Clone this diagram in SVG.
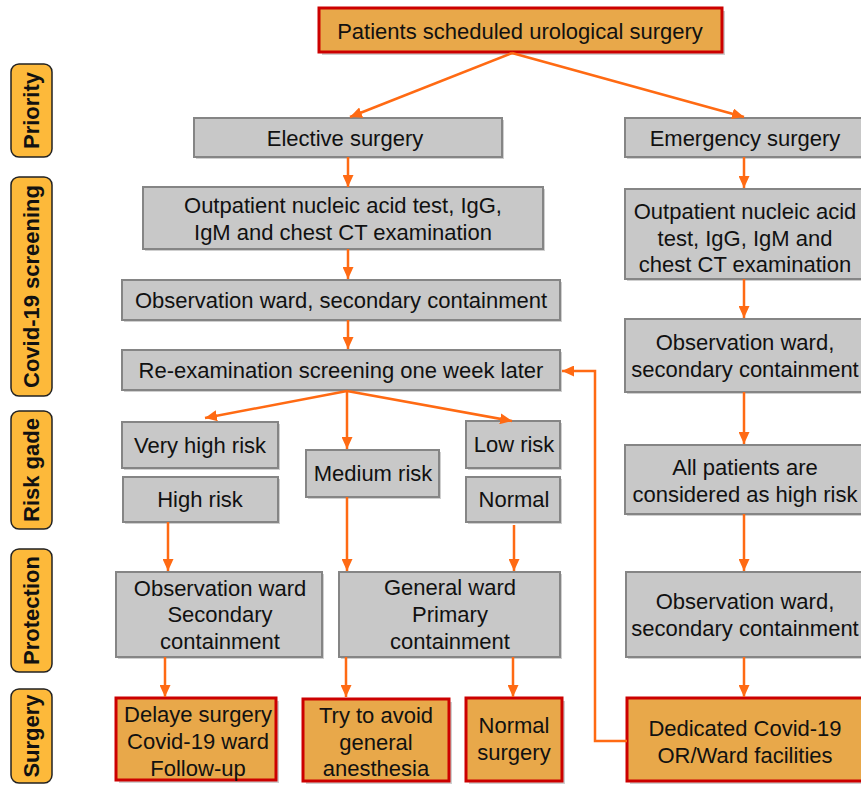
<svg xmlns="http://www.w3.org/2000/svg" width="861" height="785" viewBox="0 0 861 785">
<defs>
<marker id="ah" markerUnits="userSpaceOnUse" markerWidth="12" markerHeight="11" refX="12" refY="5.5" orient="auto">
<path d="M0,0 L12,5.5 L0,11 z" fill="#FF6A13"/>
</marker>
<style>
.t{font-family:"Liberation Sans",Arial,sans-serif;font-size:22px;fill:#111;text-anchor:middle;dominant-baseline:central}
.side rect{fill:#FDB93A;stroke:#222;stroke-width:1.5}
.side text{font-family:"Liberation Sans",Arial,sans-serif;font-size:22px;font-weight:bold;fill:#111;text-anchor:middle;dominant-baseline:central}
.g{fill:#C8C8C8;stroke:#858585;stroke-width:2}
.o{fill:#E8A84A;stroke:#CC0000;stroke-width:3}
.sh{fill:#A0A0A0;opacity:0.5}
.c path{fill:none;stroke:#FF6A13;stroke-width:2.5;marker-end:url(#ah)}
</style>
</defs>
<rect width="861" height="785" fill="#fff"/>

<g class="side" id="side-priority"><rect x="11" y="64" width="41" height="93" rx="8"/><text transform="translate(31.5,110.5) rotate(-90)">Priority</text></g>
<g class="side" id="side-screening"><rect x="11" y="177" width="41" height="219" rx="8"/><text transform="translate(31.5,286.5) rotate(-90)">Covid-19 screening</text></g>
<g class="side" id="side-risk"><rect x="11" y="411" width="41" height="118" rx="8"/><text transform="translate(31.5,470) rotate(-90)">Risk gade</text></g>
<g class="side" id="side-protection"><rect x="11" y="549" width="41" height="123" rx="8"/><text transform="translate(31.5,610.5) rotate(-90)">Protection</text></g>
<g class="side" id="side-surgery"><rect x="11" y="689" width="41" height="94" rx="8"/><text transform="translate(31.5,736) rotate(-90)">Surgery</text></g>

<g id="top"><rect class="sh" x="322" y="11" width="403" height="44"/><rect class="o" x="319" y="8" width="403" height="44"/><text class="t" x="520" y="31">Patients scheduled urological surgery</text></g>

<g id="elective"><rect class="sh" x="196" y="120" width="308" height="39"/><rect class="g" x="194" y="118" width="308" height="39"/><text class="t" x="345" y="138">Elective surgery</text></g>
<g id="emergency"><rect class="sh" x="627" y="120" width="250" height="39"/><rect class="g" x="625" y="118" width="250" height="39"/><text class="t" x="745" y="138">Emergency surgery</text></g>

<g id="outpatient-l"><rect class="sh" x="145" y="189" width="400" height="62"/><rect class="g" x="143" y="187" width="400" height="62"/><text class="t" x="343" y="205">Outpatient nucleic acid test, IgG,</text><text class="t" x="343" y="232">IgM and chest CT examination</text></g>
<g id="obs-l"><rect class="sh" x="124" y="282" width="438" height="40"/><rect class="g" x="122" y="280" width="438" height="40"/><text class="t" x="341" y="300">Observation ward, secondary containment</text></g>
<g id="reexam"><rect class="sh" x="124" y="352" width="438" height="40"/><rect class="g" x="122" y="350" width="438" height="40"/><text class="t" x="341" y="370">Re-examination screening one week later</text></g>

<g id="veryhigh"><rect class="sh" x="124" y="424" width="156" height="46"/><rect class="g" x="122" y="422" width="156" height="46"/><text class="t" x="200" y="445">Very high risk</text></g>
<g id="high"><rect class="sh" x="125" y="479" width="155" height="45"/><rect class="g" x="123" y="477" width="155" height="45"/><text class="t" x="200" y="499">High risk</text></g>
<g id="medium"><rect class="sh" x="308" y="452" width="133" height="47"/><rect class="g" x="306" y="450" width="133" height="47"/><text class="t" x="373" y="473">Medium risk</text></g>
<g id="low"><rect class="sh" x="468" y="423" width="94" height="47"/><rect class="g" x="466" y="421" width="94" height="47"/><text class="t" x="514" y="444">Low risk</text></g>
<g id="normal"><rect class="sh" x="468" y="479" width="94" height="45"/><rect class="g" x="466" y="477" width="94" height="45"/><text class="t" x="514" y="499">Normal</text></g>

<g id="obs-prot"><rect class="sh" x="118" y="574" width="206" height="85"/><rect class="g" x="116" y="572" width="206" height="85"/><text class="t" x="220" y="588">Observation ward</text><text class="t" x="220" y="614">Secondary</text><text class="t" x="220" y="641">containment</text></g>
<g id="general"><rect class="sh" x="341" y="574" width="221" height="85"/><rect class="g" x="339" y="572" width="221" height="85"/><text class="t" x="450" y="587">General ward</text><text class="t" x="450" y="614">Primary</text><text class="t" x="450" y="641">containment</text></g>

<g id="delay"><rect class="sh" x="119" y="701" width="160" height="82"/><rect class="o" x="116" y="698" width="160" height="82"/><text class="t" x="198" y="714">Delaye surgery</text><text class="t" x="198" y="741">Covid-19 ward</text><text class="t" x="198" y="768">Follow-up</text></g>
<g id="avoid"><rect class="sh" x="306" y="702" width="146" height="82"/><rect class="o" x="303" y="699" width="146" height="82"/><text class="t" x="376" y="715">Try to avoid</text><text class="t" x="376" y="742">general</text><text class="t" x="376" y="768">anesthesia</text></g>
<g id="normal-surgery"><rect class="sh" x="469" y="701" width="96" height="83"/><rect class="o" x="466" y="698" width="96" height="83"/><text class="t" x="514" y="725">Normal</text><text class="t" x="514" y="752">surgery</text></g>

<g id="outpatient-r"><rect class="sh" x="627" y="191" width="250" height="90"/><rect class="g" x="625" y="189" width="250" height="90"/><text class="t" x="745" y="211">Outpatient nucleic acid</text><text class="t" x="745" y="238">test, IgG, IgM and</text><text class="t" x="745" y="264">chest CT examination</text></g>
<g id="obs-r"><rect class="sh" x="627" y="321" width="250" height="73"/><rect class="g" x="625" y="319" width="250" height="73"/><text class="t" x="745" y="342">Observation ward,</text><text class="t" x="745" y="369">secondary containment</text></g>
<g id="allpatients"><rect class="sh" x="627" y="447" width="250" height="69"/><rect class="g" x="625" y="445" width="250" height="69"/><text class="t" x="745" y="467">All patients are</text><text class="t" x="745" y="494">considered as high risk</text></g>
<g id="obs-r2"><rect class="sh" x="628" y="574" width="250" height="85"/><rect class="g" x="626" y="572" width="250" height="85"/><text class="t" x="745" y="601">Observation ward,</text><text class="t" x="745" y="628">secondary containment</text></g>
<g id="dedicated"><rect class="sh" x="630" y="701" width="250" height="83"/><rect class="o" x="627" y="698" width="250" height="83"/><text class="t" x="745" y="728">Dedicated Covid-19</text><text class="t" x="745" y="755">OR/Ward facilities</text></g>

<g class="c" id="connectors">
<path d="M512,53 L350,117"/>
<path d="M512,53 L744,117"/>
<path d="M348,157 V187"/>
<path d="M348,249 V279"/>
<path d="M348,320 V349"/>
<path d="M347,391 L205,418"/>
<path d="M347,391 V449"/>
<path d="M347,391 L512,421"/>
<path d="M168,522 V571"/>
<path d="M347,497 V571"/>
<path d="M514,525 V571"/>
<path d="M165,657 V697"/>
<path d="M346,657 V697"/>
<path d="M513,657 V697"/>
<path d="M744,157 V188"/>
<path d="M744,279 V318"/>
<path d="M744,392 V444"/>
<path d="M744,514 V571"/>
<path d="M744,657 V697"/>
<path d="M627,741 H595 V371 H562"/>
</g>
</svg>
